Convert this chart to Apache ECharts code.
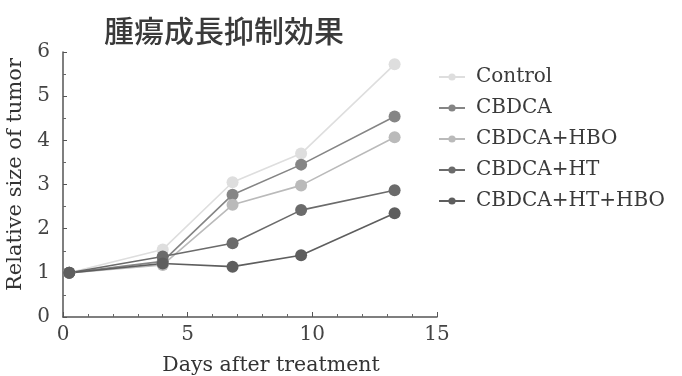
<!DOCTYPE html>
<html><head><meta charset="utf-8">
<script src="https://cdn.jsdelivr.net/npm/echarts@6/dist/echarts.min.js"></script>
<style>html,body{margin:0;padding:0;background:#fff}#c{width:682px;height:376px}</style>
</head><body><div id="c"></div>
<script>
var days = [0.25, 4.0, 6.8, 9.55, 13.3];
var seriesNames = ['Control', 'CBDCA', 'CBDCA+HBO', 'CBDCA+HT', 'CBDCA+HT+HBO'];
var control = [1.0, 1.53, 3.05, 3.70, 5.72];
var cbdca = [1.0, 1.26, 2.77, 3.45, 4.54];
var cbdcaHBO = [1.0, 1.18, 2.54, 2.98, 4.07];
var cbdcaHT = [1.0, 1.37, 1.67, 2.42, 2.87];
var cbdcaHTHBO = [1.0, 1.21, 1.14, 1.40, 2.35];
var xTicks = [0, 5, 10, 15];
var yTicks = [0, 1, 2, 3, 4, 5, 6];
var colors = ['#dedede', '#858585', '#bababa', '#6b6b6b', '#5e5e5e'];

var values = [control, cbdca, cbdcaHBO, cbdcaHT, cbdcaHTHBO];
var serif = 'DejaVu Serif';
var chart = echarts.init(document.getElementById('c'));
chart.setOption({
  animation: false,
  backgroundColor: '#fff',
  title: {
    text: '腫瘍成長抑制効果', left: 219, top: 11, textAlign: 'center',
    textStyle: {fontFamily: 'Noto Sans CJK JP', fontSize: 30, fontWeight: 500, color: '#3a3a3a'}
  },
  legend: {
    orient: 'vertical', left: 433, top: 62, itemWidth: 26, itemHeight: 9, itemGap: 11,
    data: seriesNames,
    textStyle: {fontFamily: serif, fontSize: 20, color: '#3a3a3a', padding: [0,0,0,6]}
  },
  grid: {left: 63, right: 245, top: 52, bottom: 59, outerBoundsMode: 'none', containLabel: false},
  xAxis: {
    type: 'value', min: 0, max: 15, interval: 5,
    name: 'Days after treatment', nameLocation: 'middle', nameGap: 38,
    nameTextStyle: {fontFamily: serif, fontSize: 20.5, color: '#333', padding: [0,0,0,42]},
    axisLine: {show: true, lineStyle: {color: '#555', width: 1.5}},
    axisTick: {show: true, inside: true, length: 5, lineStyle: {color: '#555'}},
    minorTick: {show: true, splitNumber: 5, length: 3, lineStyle: {color: '#666'}},
    splitLine: {show: false},
    axisLabel: {fontFamily: serif, fontSize: 20, color: '#444', margin: 8,
      formatter: function (v) { return xTicks.indexOf(v) >= 0 ? String(v) : ''; }}
  },
  yAxis: {
    type: 'value', min: 0, max: 6, interval: 1,
    name: 'Relative size of tumor', nameLocation: 'middle', nameGap: 36, nameRotate: 90,
    nameTextStyle: {fontFamily: serif, fontSize: 21, color: '#333', padding: [0,0,0,20]},
    axisLine: {show: true, lineStyle: {color: '#555', width: 1.5}},
    axisTick: {show: true, inside: true, length: 4, lineStyle: {color: '#555'}},
    minorTick: {show: true, splitNumber: 2, length: 3, lineStyle: {color: '#666'}},
    splitLine: {show: false},
    axisLabel: {fontFamily: serif, fontSize: 20, color: '#444', margin: 13,
      formatter: function (v) { return yTicks.indexOf(v) >= 0 ? String(v) : ''; }}
  },
  series: seriesNames.map(function (n, i) {
    return {
      name: n, type: 'line', symbol: 'circle', symbolSize: 12,
      data: days.map(function (d, j) { return [d, values[i][j]]; }),
      itemStyle: {color: colors[i]},
      lineStyle: {color: colors[i], width: 1.6}
    };
  })
});
</script></body></html>
